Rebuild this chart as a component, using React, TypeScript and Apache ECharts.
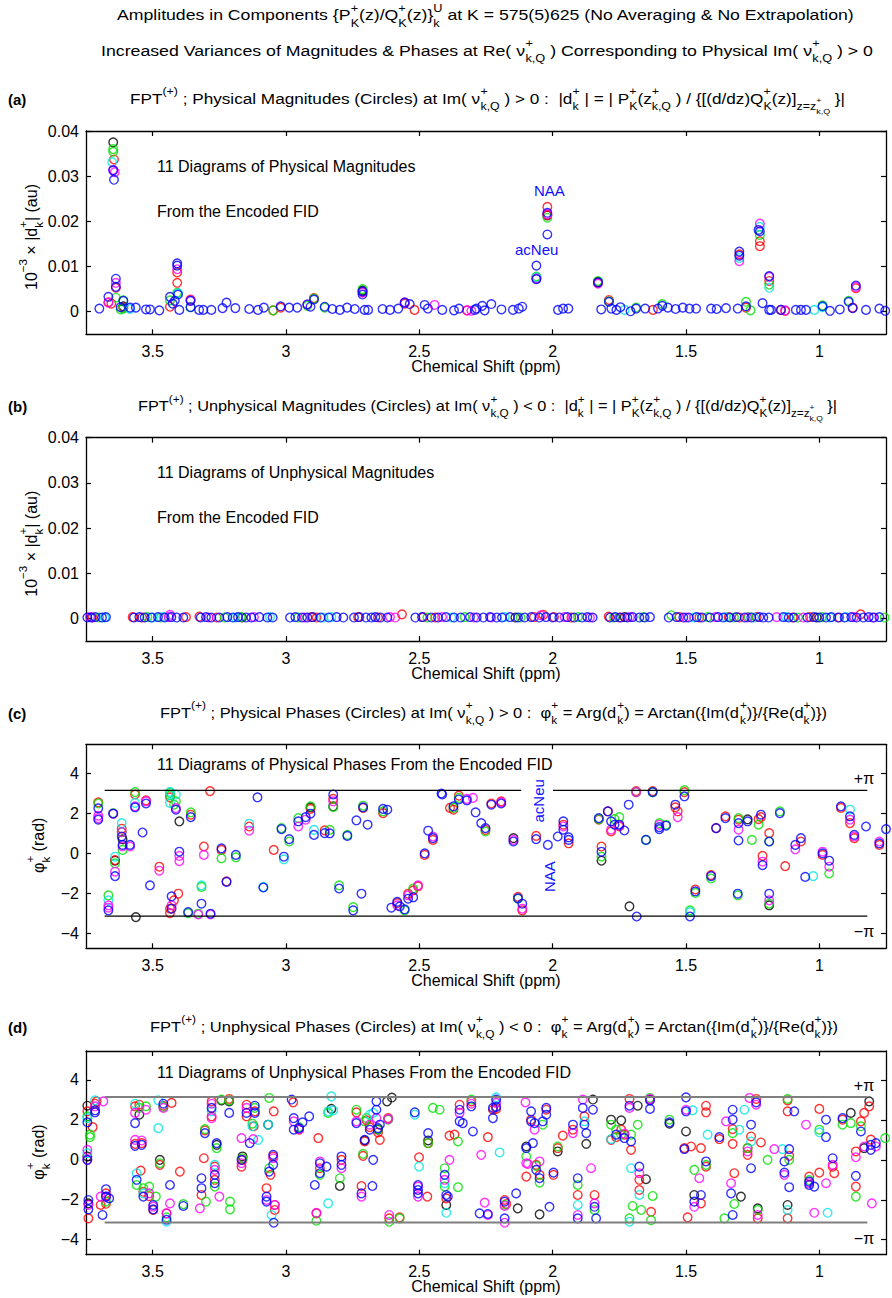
import React, { useEffect, useRef } from 'react';
import * as echarts from 'echarts';

// ---------------- data (ppm, value) ----------------
const X_TICKS = [1, 1.5, 2, 2.5, 3, 3.5];
const MAG_TICKS = [0, 0.01, 0.02, 0.03, 0.04];
const PHASE_TICKS = [-4, -2, 0, 2, 4];
const PI_LINE_X = [3.68, 0.82];
const C_TOP_GAP = [2.118, 1.999];

const A_BLACK = [[3.648,0.0375],[3.61,0.0012],[2.713,0.0047],[1.83,0.0066],[2.02,0.0213]];
const A_RED = [[3.645,0.0337],[3.638,0.0053],[3.666,0.0021],[3.61,0.0009],[3.408,0.0087],[3.408,0.0064],[3.435,0.0011],[3.358,0.0027],[3.048,0.0003],[3.02,0.0009],[2.895,0.003],[2.713,0.0044],[2.555,0.0018],[2.518,0.0004],[2.321,0.0003],[2.061,0.0075],[2.02,0.0232],[2.02,0.0214],[1.83,0.0064],[1.789,0.0026],[1.624,0.0004],[1.3,0.0127],[1.275,0.0009],[1.223,0.0156],[1.223,0.0145],[1.188,0.0068],[1.144,0.0004],[1.128,0.0002],[0.875,0.0009],[0.863,0.0052],[3.655,0.0018]];
const A_GREEN = [[3.648,0.036],[3.648,0.0354],[3.638,0.0031],[3.61,0.0025],[3.61,0.0007],[3.408,0.0042],[3.435,0.0025],[3.358,0.001],[3.048,0.0003],[2.92,0.0013],[2.895,0.0029],[2.855,0.0009],[2.713,0.005],[2.061,0.0078],[2.02,0.0208],[1.83,0.0068],[1.789,0.0023],[1.687,0.0009],[1.589,0.0017],[1.275,0.0022],[1.258,0.0003],[1.223,0.017],[1.188,0.006],[0.988,0.0014],[0.89,0.0024],[3.62,0.0005]];
const A_CYAN = [[3.652,0.0331],[3.585,0.0006],[3.405,0.0041],[1.73,0.0004],[1.3,0.0119],[1.223,0.0188],[1.188,0.0053],[1.019,0.0004],[2.061,0.0076],[0.988,0.001]];
const A_MAGENTA = [[3.648,0.0314],[3.642,0.0309],[3.638,0.0064],[3.666,0.002],[3.408,0.0094],[3.358,0.0025],[2.92,0.0016],[2.713,0.0042],[2.555,0.0021],[2.443,0.0015],[2.321,0.0003],[2.305,0.0002],[2.061,0.0073],[2.02,0.0216],[1.83,0.0062],[1.3,0.0112],[1.223,0.0195],[1.188,0.0077],[0.863,0.0055],[1.128,0.0003]];
const A_BLUE = [[3.648,0.0313],[3.645,0.0292],[3.638,0.0073],[3.638,0.0055],[3.666,0.0033],[3.7,0.0007],[3.61,0.0024],[3.62,0.001],[3.585,0.0009],[3.563,0.0009],[3.525,0.0005],[3.51,0.0005],[3.475,0.0003],[3.408,0.0107],[3.408,0.0102],[3.405,0.0038],[3.435,0.0033],[3.425,0.0018],[3.417,0.0024],[3.4,0.0004],[3.358,0.0024],[3.358,0.001],[3.326,0.0004],[3.31,0.0004],[3.28,0.0004],[3.238,0.0008],[3.223,0.002],[3.19,0.0008],[3.138,0.0006],[3.105,0.0004],[3.083,0.0009],[3.02,0.0012],[2.988,0.0009],[2.958,0.0009],[2.92,0.0016],[2.908,0.0011],[2.895,0.0027],[2.855,0.0011],[2.826,0.0006],[2.798,0.0004],[2.771,0.0009],[2.742,0.0006],[2.713,0.0045],[2.713,0.0038],[2.705,0.0004],[2.692,0.0004],[2.638,0.0006],[2.61,0.0004],[2.579,0.0007],[2.555,0.002],[2.536,0.0017],[2.48,0.0015],[2.468,0.0007],[2.414,0.0004],[2.37,0.0003],[2.351,0.0007],[2.292,0.0004],[2.286,0.0007],[2.264,0.0013],[2.255,0.0003],[2.23,0.0017],[2.192,0.0005],[2.149,0.0004],[2.127,0.0007],[2.114,0.0011],[2.061,0.0102],[2.061,0.0072],[2.02,0.0219],[2.02,0.0171],[1.98,0.0004],[1.961,0.0007],[1.941,0.0007],[1.83,0.0065],[1.818,0.0005],[1.789,0.0022],[1.78,0.0007],[1.761,0.0004],[1.746,0.001],[1.708,0.0001],[1.687,0.0007],[1.653,0.0007],[1.605,0.0007],[1.589,0.0013],[1.568,0.0009],[1.539,0.0006],[1.512,0.0009],[1.487,0.0007],[1.462,0.0007],[1.406,0.0007],[1.385,0.0006],[1.35,0.0008],[1.306,0.0007],[1.3,0.0133],[1.3,0.0124],[1.275,0.0012],[1.223,0.0178],[1.228,0.0181],[1.213,0.0019],[1.188,0.0079],[1.188,0.0004],[1.181,0.0004],[1.144,0.0004],[1.088,0.0004],[1.069,0.0004],[1.05,0.0004],[0.988,0.0012],[0.96,0.0002],[0.923,0.0005],[0.89,0.0022],[0.875,0.0008],[0.863,0.0058],[0.825,0.0004],[0.775,0.0007],[0.753,0.0002]];

const B_BLACK = [[2.14,0.0002],[1.73,0.0003],[1.01,0.0002],[3.165,0.0002]];
const B_RED = [[3.725,0.0002],[3.575,0.0003],[3.54,0.0002],[3.375,0.0003],[3.325,0.0004],[3.26,0.0002],[2.905,0.0003],[2.885,0.0002],[2.73,0.0003],[2.655,0.0002],[2.565,0.0009],[2.485,0.0003],[2.44,0.0002],[2.07,0.0003],[2.035,0.0008],[1.995,0.0003],[1.93,0.0002],[1.79,0.0004],[1.75,0.0002],[1.525,0.0003],[1.45,0.0002],[1.34,0.0003],[1.3,0.0002],[1.235,0.0003],[1.1,0.0002],[1.035,0.0003],[0.925,0.0002],[0.845,0.0009]];
const B_GREEN = [[3.7,0.0002],[3.52,0.0003],[3.47,0.0002],[3.23,0.0002],[3.17,0.0003],[2.955,0.0002],[2.47,0.0002],[2.33,0.0003],[2.12,0.0002],[1.905,0.0003],[1.77,0.0002],[1.66,0.0003],[1.555,0.0007],[1.42,0.0003],[1.32,0.0002],[1.265,0.0003],[1.08,0.0002],[0.99,0.0003],[0.755,0.0002]];
const B_CYAN = [[3.68,0.0002],[3.5,0.0002],[3.46,0.0003],[3.19,0.0002],[3.06,0.0003],[2.86,0.0002],[2.83,0.0003],[2.38,0.0002],[2.18,0.0003],[1.47,0.0002],[1.35,0.0003],[1.245,0.0002],[1.125,0.0003],[0.96,0.0002],[0.9,0.0003]];
const B_MAGENTA = [[3.735,0.0003],[3.44,0.0003],[3.435,0.0008],[3.29,0.0002],[3.12,0.0003],[2.93,0.0002],[2.61,0.0003],[2.59,0.0002],[2.415,0.0003],[2.295,0.0002],[2.23,0.0002],[2.045,0.0007],[1.955,0.0003],[1.86,0.0002],[1.71,0.0003],[1.5,0.0002],[1.39,0.0003],[1.27,0.0002],[1.16,0.0003],[1.06,0.0002],[0.87,0.0003],[0.8,0.0002]];
const B_BLUE = [[3.745,0.0002],[3.73,0.0002],[3.715,0.0003],[3.69,0.0002],[3.675,0.0003],[3.57,0.0002],[3.55,0.0003],[3.53,0.0002],[3.505,0.0002],[3.48,0.0003],[3.455,0.0002],[3.43,0.0003],[3.41,0.0002],[3.385,0.0002],[3.32,0.0002],[3.3,0.0003],[3.28,0.0002],[3.25,0.0002],[3.22,0.0003],[3.2,0.0002],[3.18,0.0003],[3.15,0.0002],[3.13,0.0002],[3.1,0.0003],[3.07,0.0002],[3.05,0.0002],[2.985,0.0002],[2.965,0.0003],[2.94,0.0002],[2.92,0.0002],[2.9,0.0003],[2.87,0.0002],[2.84,0.0002],[2.81,0.0003],[2.785,0.0002],[2.745,0.0002],[2.725,0.0003],[2.7,0.0002],[2.68,0.0002],[2.665,0.0003],[2.645,0.0002],[2.62,0.0002],[2.515,0.0002],[2.49,0.0003],[2.455,0.0002],[2.43,0.0002],[2.4,0.0003],[2.37,0.0002],[2.345,0.0002],[2.31,0.0003],[2.285,0.0002],[2.26,0.0002],[2.235,0.0003],[2.21,0.0002],[2.19,0.0002],[2.16,0.0003],[2.13,0.0002],[2.105,0.0002],[2.08,0.0003],[2.05,0.0002],[2.025,0.0003],[2.0,0.0002],[1.975,0.0002],[1.945,0.0003],[1.92,0.0002],[1.89,0.0002],[1.87,0.0003],[1.85,0.0002],[1.785,0.0002],[1.765,0.0003],[1.745,0.0002],[1.72,0.0002],[1.7,0.0003],[1.675,0.0002],[1.655,0.0002],[1.635,0.0003],[1.565,0.0002],[1.535,0.0003],[1.51,0.0002],[1.49,0.0002],[1.46,0.0003],[1.44,0.0002],[1.41,0.0002],[1.38,0.0003],[1.36,0.0002],[1.335,0.0002],[1.31,0.0003],[1.28,0.0002],[1.255,0.0002],[1.225,0.0003],[1.21,0.0002],[1.19,0.0002],[1.135,0.0003],[1.115,0.0002],[1.095,0.0002],[1.045,0.0002],[1.02,0.0003],[1.0,0.0002],[0.975,0.0002],[0.955,0.0003],[0.93,0.0002],[0.905,0.0002],[0.88,0.0003],[0.86,0.0002],[0.835,0.0002],[0.815,0.0003],[0.795,0.0002],[0.775,0.0003]];

const C_BLACK = [[3.641,-0.37],[3.613,0.7],[3.563,-3.19],[3.4,1.6],[2.908,2.3],[2.147,0.76],[1.817,-0.37],[1.712,-2.65],[1.269,1.7],[1.188,-2.6],[2.823,2.35]];
const C_RED = [[3.704,2.55],[3.641,-0.34],[3.616,1.23],[3.566,2.94],[3.525,2.65],[3.475,-0.67],[3.435,-2.77],[3.435,-2.99],[3.435,2.8],[3.42,-2.35],[3.404,-2.02],[3.357,1.93],[3.285,3.11],[3.308,0.34],[3.242,0.17],[3.223,-1.4],[3.138,1.34],[3.046,0.17],[2.908,2.22],[2.855,1.15],[2.823,2.72],[2.711,2.27],[2.636,2.01],[2.583,-2.49],[2.542,-2.02],[2.523,-1.85],[2.505,-1.65],[2.48,-0.08],[2.449,0.67],[2.385,2.27],[2.372,2.18],[2.352,2.88],[2.252,1.17],[2.23,2.49],[2.193,2.6],[2.13,-2.18],[2.114,-2.85],[2.062,0.87],[1.96,1.43],[1.94,0.5],[1.827,1.68],[1.817,0.34],[1.793,2.1],[1.781,1.09],[1.75,1.34],[1.687,3.11],[1.625,3.11],[1.54,2.3],[1.531,2.1],[1.506,3.06],[1.465,-1.81],[1.406,-1.09],[1.387,1.26],[1.352,1.85],[1.303,1.68],[1.228,1.71],[1.219,1.81],[1.213,-0.13],[1.188,1.01],[1.128,-0.64],[1.069,0.59],[0.988,-0.08],[0.919,2.27],[0.885,1.51],[0.869,0.76],[0.775,0.42]];
const C_GREEN = [[3.704,2.49],[3.666,-2.1],[3.648,2.01],[3.641,-0.5],[3.616,1.06],[3.613,0.17],[3.566,3.06],[3.435,3.02],[3.435,2.89],[3.42,2.43],[3.413,2.6],[3.357,2.05],[3.367,-2.99],[3.329,-3.02],[3.317,-1.68],[3.242,-0.25],[3.188,-0.2],[3.017,1.26],[2.988,0.59],[2.954,1.76],[2.908,2.35],[2.836,1.17],[2.823,2.32],[2.801,-1.6],[2.77,0.92],[2.748,-2.69],[2.711,2.38],[2.636,2.1],[2.555,-2.85],[2.523,-1.76],[2.372,2.27],[2.352,2.77],[2.252,1.09],[2.13,-2.27],[1.827,1.71],[1.817,-0.17],[1.768,1.71],[1.75,1.81],[1.687,3.06],[1.65,0.67],[1.625,3.06],[1.6,1.51],[1.575,1.43],[1.506,3.16],[1.485,-2.85],[1.465,-1.98],[1.406,-1.26],[1.306,-2.1],[1.303,1.76],[1.253,0.67],[1.228,1.43],[1.188,0.59],[1.188,-2.52],[1.148,2.1],[0.963,-1.01]];
const C_CYAN = [[3.666,-2.35],[3.641,-0.17],[3.616,1.51],[3.566,2.52],[3.435,3.07],[3.435,2.52],[3.413,2.94],[3.317,-1.6],[3.138,1.48],[3.085,-1.68],[3.008,-0.3],[2.895,1.17],[1.485,-2.94],[1.023,-1.14],[0.885,2.18]];
const C_MAGENTA = [[3.704,1.88],[3.704,1.76],[3.666,-2.6],[3.666,-2.72],[3.648,1.98],[3.641,-0.92],[3.616,1.06],[3.613,0.34],[3.585,0.34],[3.566,2.35],[3.525,2.6],[3.475,-0.87],[3.429,-2.6],[3.413,2.26],[3.4,-0.13],[3.4,-0.39],[3.329,-3.06],[3.308,-0.08],[3.283,-3.06],[3.138,1.13],[2.954,1.34],[2.926,1.68],[2.823,2.6],[2.583,-2.6],[2.542,-2.1],[2.505,-1.6],[2.449,0.84],[2.322,2.72],[2.299,2.77],[2.193,2.55],[2.147,0.67],[2.114,-2.77],[1.96,1.34],[1.781,1.18],[1.75,1.38],[1.687,3.06],[1.6,1.43],[1.531,1.81],[1.303,1.18],[1.213,-0.42],[1.188,-2.35],[1.09,0.2],[0.988,0.08],[0.963,-0.67],[0.885,1.68],[0.869,0.84],[0.775,0.59]];
const C_BLUE = [[3.704,2.25],[3.704,1.68],[3.666,-2.85],[3.648,1.98],[3.641,-1.14],[3.616,0.84],[3.613,0.42],[3.585,0.42],[3.566,2.3],[3.538,1.04],[3.525,2.49],[3.51,-1.6],[3.429,-2.15],[3.429,-2.77],[3.413,2.18],[3.4,0.08],[3.357,1.81],[3.367,-2.94],[3.317,-2.52],[3.242,0.25],[3.283,-3.02],[3.223,-1.43],[3.188,-0.08],[3.107,2.8],[3.085,-1.71],[3.017,1.21],[3.008,-0.17],[2.988,0.71],[2.954,1.6],[2.926,1.81],[2.908,1.98],[2.895,0.92],[2.855,1.01],[2.836,1.0],[2.823,2.94],[2.801,-1.76],[2.77,0.87],[2.748,-2.85],[2.736,1.65],[2.717,-2.02],[2.711,2.3],[2.694,1.43],[2.636,2.22],[2.62,2.18],[2.605,-2.72],[2.583,-2.43],[2.573,-2.65],[2.555,-2.8],[2.542,-2.27],[2.523,-2.2],[2.48,0.0],[2.467,1.13],[2.449,0.76],[2.417,2.99],[2.414,2.94],[2.372,2.35],[2.352,2.69],[2.322,2.65],[2.289,2.05],[2.268,1.51],[2.252,1.26],[2.23,2.43],[2.193,2.49],[2.147,0.59],[2.13,-2.25],[2.114,-2.52],[2.062,0.71],[2.018,0.42],[1.981,0.84],[1.96,1.6],[1.96,1.18],[1.94,0.67],[1.94,0.8],[1.827,1.76],[1.817,0.08],[1.793,2.1],[1.781,1.6],[1.768,1.43],[1.75,1.43],[1.731,1.14],[1.715,2.43],[1.685,-3.16],[1.65,0.67],[1.625,3.06],[1.6,1.31],[1.6,1.21],[1.575,1.38],[1.54,2.43],[1.506,2.85],[1.485,-3.16],[1.465,-1.9],[1.406,-1.14],[1.387,1.26],[1.352,1.76],[1.306,-2.02],[1.303,1.51],[1.303,0.64],[1.269,1.6],[1.219,1.93],[1.213,-0.59],[1.188,0.59],[1.188,-2.02],[1.148,2.01],[1.09,0.42],[1.069,0.76],[1.053,-1.18],[0.988,0.0],[0.963,-0.37],[0.919,2.35],[0.885,1.85],[0.869,0.92],[0.825,1.34],[0.775,0.5],[0.75,1.21]];

const D_BLACK = [[3.745,2.71],[3.745,0.17],[3.741,-2.18],[3.55,2.26],[3.473,0.0],[3.26,0.75],[3.242,2.98],[3.213,2.93],[3.163,0.17],[3.067,1.76],[2.83,2.55],[2.798,-1.31],[2.705,0.97],[2.655,1.51],[2.621,2.93],[2.603,3.12],[2.467,0.97],[2.399,-2.26],[2.131,-2.43],[2.099,0.67],[2.049,-2.73],[1.981,0.42],[1.874,0.8],[1.849,3.02],[1.781,2.01],[1.743,1.98],[1.681,2.71],[1.65,-0.97],[1.562,1.81],[1.5,1.42],[1.469,-1.76],[1.294,-1.84],[1.231,-2.43],[1.119,-2.26],[0.882,2.35],[0.832,0.59],[0.813,2.93]];
const D_RED = [[3.745,2.43],[3.741,-2.93],[3.725,1.64],[3.716,2.81],[3.71,2.93],[3.695,-2.26],[3.675,-1.68],[3.675,-2.2],[3.566,2.68],[3.566,0.8],[3.55,2.76],[3.545,-0.54],[3.541,0.84],[3.535,-1.6],[3.513,-1.82],[3.498,-2.51],[3.473,-0.25],[3.46,2.71],[3.448,-2.68],[3.429,2.85],[3.398,-0.59],[3.317,-1.76],[3.308,0.08],[3.304,1.47],[3.279,2.93],[3.279,2.18],[3.267,-0.34],[3.267,-1.0],[3.213,3.05],[3.167,-0.34],[3.163,0.0],[3.148,2.76],[3.148,2.18],[3.121,1.68],[3.117,2.43],[3.073,-1.42],[3.058,-0.75],[3.048,0.17],[3.046,2.43],[3.042,-2.51],[3.042,-2.26],[2.973,2.88],[2.951,1.51],[2.879,1.09],[2.873,-0.42],[2.886,-2.68],[2.792,0.0],[2.736,2.38],[2.717,-1.31],[2.711,0.2],[2.705,0.92],[2.698,1.98],[2.686,1.64],[2.655,1.37],[2.648,1.0],[2.617,2.09],[2.613,-2.93],[2.574,-2.88],[2.501,0.13],[2.467,0.84],[2.47,-1.84],[2.399,-1.93],[2.387,1.21],[2.368,1.26],[2.349,2.76],[2.305,2.93],[2.243,1.14],[2.224,2.51],[2.212,2.55],[2.18,-2.01],[2.174,-2.21],[2.099,-0.84],[2.081,2.01],[2.062,-0.25],[2.049,-0.75],[2.024,2.51],[1.997,-0.75],[1.981,0.59],[1.962,1.21],[1.924,1.51],[1.906,-1.76],[1.881,2.18],[1.843,-1.76],[1.781,1.0],[1.762,1.14],[1.743,1.51],[1.731,1.26],[1.712,3.05],[1.706,0.5],[1.675,-1.0],[1.675,-1.51],[1.635,3.02],[1.631,-2.6],[1.506,0.59],[1.494,-2.88],[1.481,0.67],[1.444,0.59],[1.444,-2.18],[1.425,2.71],[1.425,2.38],[1.425,-0.34],[1.375,1.04],[1.325,1.54],[1.325,0.8],[1.319,-0.67],[1.269,0.59],[1.269,0.25],[1.256,1.17],[1.237,3.05],[1.231,-2.93],[1.219,0.87],[1.119,2.43],[1.119,2.98],[1.119,-2.93],[1.113,0.2],[1.038,-0.84],[1.0,2.55],[1.0,-0.64],[0.95,-0.34],[0.944,-0.67],[0.913,2.01],[0.863,-1.34],[0.863,0.42],[0.844,1.93],[0.832,2.35],[0.813,2.68],[0.807,1.01]];
const D_GREEN = [[3.745,2.18],[3.735,1.14],[3.735,1.26],[3.675,-2.09],[3.56,-1.26],[3.55,2.6],[3.535,-1.42],[3.525,2.68],[3.513,-1.34],[3.488,-1.84],[3.473,-0.17],[3.46,2.65],[3.448,-2.88],[3.385,-2.22],[3.304,1.54],[3.3,-2.09],[3.267,-1.34],[3.26,0.59],[3.242,3.02],[3.213,2.98],[3.21,-2.09],[3.21,-2.48],[3.163,0.08],[3.126,1.81],[3.117,2.6],[3.063,-0.42],[3.063,3.1],[2.951,1.64],[2.873,-0.75],[2.886,-3.05],[2.842,2.35],[2.798,-0.92],[2.736,2.51],[2.711,0.3],[2.705,1.93],[2.698,2.09],[2.655,1.54],[2.617,2.01],[2.613,-3.1],[2.574,-2.93],[2.467,0.84],[2.449,2.6],[2.424,2.51],[2.405,-0.42],[2.405,-1.34],[2.355,0.92],[2.355,-1.37],[2.305,3.02],[2.18,-2.26],[2.099,0.17],[2.062,-0.3],[2.049,-1.14],[2.037,1.76],[1.981,0.67],[1.906,-1.26],[1.843,-2.51],[1.781,1.76],[1.762,1.51],[1.743,1.26],[1.712,-2.93],[1.706,1.26],[1.7,-2.31],[1.681,1.76],[1.668,-2.51],[1.635,3.1],[1.631,-3.02],[1.625,-1.81],[1.562,2.01],[1.469,-0.5],[1.425,-0.25],[1.356,-2.93],[1.325,1.34],[1.319,-2.21],[1.269,0.59],[1.231,-2.51],[1.194,0.0],[1.119,3.05],[1.113,0.0],[1.038,-1.01],[1.0,1.51],[0.913,1.76],[0.882,1.84],[0.863,-1.84],[0.844,1.68],[0.753,1.09]];
const D_CYAN = [[3.745,2.09],[3.745,0.34],[3.716,2.98],[3.566,2.81],[3.56,-0.67],[3.535,-1.68],[3.479,1.59],[3.479,2.98],[3.448,-3.1],[3.279,2.43],[3.267,-0.25],[3.126,1.68],[3.104,1.0],[3.067,1.76],[3.054,-2.76],[2.842,2.43],[2.83,3.18],[2.823,2.48],[2.842,-2.18],[2.686,2.26],[2.673,2.35],[2.517,2.26],[2.501,-0.34],[2.405,-1.17],[2.399,-2.65],[2.212,3.13],[2.199,0.37],[1.906,-2.26],[1.881,1.93],[1.781,1.04],[1.712,-3.1],[1.706,-0.42],[1.675,-1.76],[1.475,2.48],[1.419,1.26],[1.3,1.51],[1.281,2.51],[1.256,0.92],[1.138,0.54],[1.119,-2.51],[1.0,1.38],[0.969,-2.65]];
const D_MAGENTA = [[3.745,0.5],[3.745,0.0],[3.741,-2.26],[3.716,2.68],[3.695,-1.84],[3.685,2.93],[3.675,-1.84],[3.566,2.35],[3.566,1.0],[3.541,0.97],[3.525,2.51],[3.513,-1.68],[3.498,-2.34],[3.46,2.6],[3.448,-2.68],[3.435,-2.18],[3.323,-2.43],[3.279,2.81],[3.279,2.09],[3.267,-0.5],[3.25,-1.84],[3.167,1.09],[3.167,-0.17],[3.148,2.6],[3.123,1.04],[3.073,-2.01],[3.048,0.08],[3.042,-2.26],[2.971,1.93],[2.951,1.54],[2.873,-0.08],[2.886,-2.65],[2.792,-0.42],[2.736,1.93],[2.717,-1.84],[2.686,1.76],[2.661,2.09],[2.617,2.04],[2.613,-2.76],[2.505,-1.34],[2.505,-1.84],[2.405,-1.0],[2.387,0.0],[2.349,2.35],[2.305,2.81],[2.268,0.25],[2.243,-2.76],[2.255,-2.14],[2.212,2.85],[2.18,-2.31],[2.18,-3.15],[2.102,2.88],[2.099,-0.17],[2.093,-0.2],[2.068,1.51],[2.049,-0.08],[1.924,1.34],[1.906,-2.76],[1.887,3.02],[1.856,-0.42],[1.843,-2.18],[1.731,1.31],[1.712,2.6],[1.675,-0.67],[1.635,3.05],[1.5,2.51],[1.469,-2.35],[1.45,-0.92],[1.35,1.93],[1.331,-1.17],[1.269,0.42],[1.262,3.1],[1.237,2.76],[1.231,-2.76],[1.169,0.54],[1.131,-0.75],[1.05,1.76],[1.038,-1.17],[1.019,-2.65],[0.975,-1.17],[0.95,-0.25],[0.863,0.13],[0.832,0.67],[0.803,-2.18],[0.788,0.67]];
const D_BLUE = [[3.745,1.88],[3.745,0.0],[3.741,-2.01],[3.741,-2.48],[3.716,2.48],[3.716,2.38],[3.688,-2.76],[3.675,-1.47],[3.675,-1.84],[3.663,-1.93],[3.566,1.84],[3.566,0.7],[3.56,-1.0],[3.541,0.75],[3.535,-1.84],[3.498,-2.26],[3.498,-2.48],[3.46,2.81],[3.448,-3.0],[3.435,-1.26],[3.385,-2.31],[3.317,-0.92],[3.317,-1.42],[3.304,1.34],[3.279,2.6],[3.267,-0.75],[3.267,-1.17],[3.26,0.84],[3.213,2.35],[3.167,0.0],[3.148,2.35],[3.136,0.84],[3.117,2.71],[3.117,2.35],[3.073,-1.84],[3.073,-2.09],[3.063,-0.59],[3.048,0.25],[3.048,-0.25],[3.046,-3.15],[2.979,3.02],[2.971,2.09],[2.971,1.51],[2.951,1.59],[2.938,1.88],[2.913,2.18],[2.892,-1.26],[2.873,-0.17],[2.873,-0.67],[2.848,-0.34],[2.792,0.17],[2.792,-0.25],[2.736,1.84],[2.717,-1.68],[2.705,1.0],[2.686,1.51],[2.673,0.0],[2.676,-1.31],[2.661,2.93],[2.661,2.51],[2.655,1.59],[2.648,1.76],[2.517,2.38],[2.505,-1.26],[2.505,-1.51],[2.505,-1.68],[2.467,1.34],[2.405,-0.75],[2.399,-1.76],[2.393,-1.84],[2.349,2.51],[2.349,1.93],[2.337,1.84],[2.305,2.68],[2.299,1.42],[2.274,-2.68],[2.243,-2.71],[2.224,2.6],[2.224,2.09],[2.212,3.02],[2.212,2.65],[2.18,-2.09],[2.18,-2.93],[2.137,-1.68],[2.099,0.59],[2.081,2.43],[2.081,1.93],[2.074,0.84],[2.068,1.84],[2.062,-0.5],[2.049,-0.92],[2.037,1.93],[2.024,2.6],[2.024,2.26],[2.012,-2.35],[1.997,-0.64],[1.924,1.76],[1.906,-0.92],[1.906,-2.93],[1.887,2.6],[1.881,1.76],[1.874,1.34],[1.849,2.51],[1.843,-2.35],[1.837,-2.93],[1.762,1.26],[1.731,1.09],[1.712,2.71],[1.706,0.92],[1.675,-0.34],[1.635,2.55],[1.635,2.98],[1.562,1.88],[1.5,3.13],[1.5,2.43],[1.506,0.54],[1.469,-2.09],[1.444,-1.76],[1.425,-0.08],[1.375,1.14],[1.331,-1.68],[1.325,2.51],[1.325,2.01],[1.325,-2.76],[1.256,1.76],[1.256,-0.42],[1.237,2.88],[1.131,-0.08],[1.131,-0.64],[1.113,-1.37],[1.113,0.54],[1.094,2.43],[1.038,-1.09],[1.038,-1.26],[1.019,-1.34],[0.975,2.01],[0.975,1.14],[0.95,0.08],[0.913,2.09],[0.863,-0.8],[0.844,1.42],[0.807,0.75],[0.807,0.5],[0.788,0.84]];

// ---------------- texts ----------------
const TITLE_1 = 'Amplitudes in Components {P^{+}_{K}(z)/Q^{+}_{K}(z)}^{U}_{k} at K = 575(5)625 (No Averaging & No Extrapolation)';
const TITLE_2 = 'Increased Variances of Magnitudes & Phases at Re( \u03bd^{+}_{k,Q} ) Corresponding to Physical Im( \u03bd^{+}_{k,Q} ) > 0';
const TITLE_A = 'FPT^{(+)} ; Physical Magnitudes (Circles) at Im( \u03bd^{+}_{k,Q} ) > 0 :  |d^{+}_{k} | = | P^{+}_{K}(z^{+}_{k,Q} ) / {[(d/dz)Q^{+}_{K}(z)]_{z=z^{+}_{k,Q}} }|';
const TITLE_B = 'FPT^{(+)} ; Unphysical Magnitudes (Circles) at Im( \u03bd^{+}_{k,Q} ) < 0 :  |d^{+}_{k} | = | P^{+}_{K}(z^{+}_{k,Q} ) / {[(d/dz)Q^{+}_{K}(z)]_{z=z^{+}_{k,Q}} }|';
const TITLE_C = 'FPT^{(+)} ; Physical Phases (Circles) at Im( \u03bd^{+}_{k,Q} ) > 0 :  \u03c6^{+}_{k} = Arg(d^{+}_{k}) = Arctan({Im(d^{+}_{k})}/{Re(d^{+}_{k})})';
const TITLE_D = 'FPT^{(+)} ; Unphysical Phases (Circles) at Im( \u03bd^{+}_{k,Q} ) < 0 :  \u03c6^{+}_{k} = Arg(d^{+}_{k}) = Arctan({Im(d^{+}_{k})}/{Re(d^{+}_{k})})';
const YLABEL_MAG = '10^{\u22123} \u00d7 |d^{+}_{k}| (au)';
const YLABEL_PHASE = '\u03c6^{+}_{k} (rad)';
const XLABEL = 'Chemical Shift (ppm)';

// ---------------- helpers ----------------
const FONT = '"Liberation Sans", Arial, Helvetica, sans-serif';
const COLORS: Record<string, string> = {
  black: '#000000', red: '#ff0000', green: '#00e000', cyan: '#00e5e5', magenta: '#ff00ff', blue: '#0000ff',
};
const ORDER = ['black', 'red', 'green', 'cyan', 'magenta', 'blue'];

let measureCtx: any = null;
function measure(t: string, size: number, bold: boolean): number {
  if (!measureCtx) measureCtx = document.createElement('canvas').getContext('2d');
  if (!measureCtx) return t.length * size * 0.55;
  measureCtx.font = `${bold ? 'bold ' : ''}${size}px ${FONT}`;
  return measureCtx.measureText(t).width;
}

type Run = { text: string; x: number; dy: number; size: number };
function layoutMath(src: string, size: number, bold: boolean) {
  const runs: Run[] = [];
  const parse = (s: string, sz: number, dy: number, x0: number): number => {
    let x = x0;
    let buf = '';
    let i = 0;
    const flush = () => {
      if (buf) {
        runs.push({ text: buf, x, dy, size: sz });
        x += measure(buf, sz, bold);
        buf = '';
      }
    };
    while (i < s.length) {
      const c = s[i];
      if ((c === '^' || c === '_') && s[i + 1] === '{') {
        flush();
        let maxW = 0;
        while (i < s.length && (s[i] === '^' || s[i] === '_') && s[i + 1] === '{') {
          const kind = s[i];
          let depth = 0;
          let j = i + 1;
          for (; j < s.length; j++) {
            if (s[j] === '{') depth++;
            else if (s[j] === '}') { depth--; if (depth === 0) break; }
          }
          const inner = s.slice(i + 2, j);
          const w = parse(inner, sz * 0.72, dy + (kind === '^' ? -0.5 : 0.5) * sz, x);
          if (w > maxW) maxW = w;
          i = j + 1;
        }
        x += maxW;
      } else {
        buf += c;
        i++;
      }
    }
    flush();
    return x - x0;
  };
  const width = parse(src, size, 0, 0);
  return { runs, width };
}

function runEls(runs: Run[], fill: string, bold: boolean) {
  return runs.map((r) => ({
    type: 'text', x: r.x, y: r.dy, silent: true,
    style: {
      text: r.text, fontSize: r.size, fontFamily: FONT, fontWeight: bold ? 'bold' : 'normal', fill,
      textAlign: 'left', textVerticalAlign: 'middle', align: 'left', verticalAlign: 'middle',
    },
  }));
}

function mathText(src: string, o: any) {
  const bold = !!o.bold;
  const { runs, width } = layoutMath(src, o.size, bold);
  let sx = 1;
  let left = o.x;
  if (o.x1 != null) sx = (o.x1 - o.x) / width;
  else if (o.align === 'center') left = o.x - width / 2;
  return { type: 'group', x: left, y: o.y, scaleX: sx, scaleY: 1, silent: true, children: runEls(runs, o.fill || '#000', bold) };
}

function mathTextV(src: string, o: any) {
  const { runs, width } = layoutMath(src, o.size, false);
  const sx = o.len ? o.len / width : 1;
  return {
    type: 'group', x: o.cx, y: o.cy, rotation: Math.PI / 2, silent: true,
    children: [{ type: 'group', x: (-width * sx) / 2, scaleX: sx, children: runEls(runs, o.fill || '#000', false) }],
  };
}

// ---------------- layout ----------------
const GRIDS = [
  { top: 131, height: 203.3 },
  { top: 437.7, height: 203.3 },
  { top: 744.3, height: 204 },
  { top: 1051, height: 203.7 },
];
const GRID_LEFT = 86;
const GRID_WIDTH = 800;

function buildOption() {
  const panels = [
    { mag: true, sets: { black: A_BLACK, red: A_RED, green: A_GREEN, cyan: A_CYAN, magenta: A_MAGENTA, blue: A_BLUE } },
    { mag: true, sets: { black: B_BLACK, red: B_RED, green: B_GREEN, cyan: B_CYAN, magenta: B_MAGENTA, blue: B_BLUE } },
    { mag: false, sets: { black: C_BLACK, red: C_RED, green: C_GREEN, cyan: C_CYAN, magenta: C_MAGENTA, blue: C_BLUE } },
    { mag: false, sets: { black: D_BLACK, red: D_RED, green: D_GREEN, cyan: D_CYAN, magenta: D_MAGENTA, blue: D_BLUE } },
  ];
  const grid = GRIDS.map((g) => ({ left: GRID_LEFT, top: g.top, width: GRID_WIDTH, height: g.height, containLabel: false }));
  const xAxis: any[] = [];
  const yAxis: any[] = [];
  const series: any[] = [];
  const axisLine = { show: true, onZero: false, lineStyle: { color: '#000', width: 1.3 } };
  const labelStyle = { fontSize: 16, fontFamily: FONT, color: '#000' };

  panels.forEach((p, g) => {
    const xBase = {
      type: 'value', gridIndex: g, min: 0.75, max: 3.75, inverse: true, splitLine: { show: false },
      axisLine, axisTick: { show: true, inside: true, length: 5, customValues: X_TICKS, lineStyle: { color: '#000', width: 1.2 } },
    };
    xAxis.push({ ...xBase, position: 'bottom', axisLabel: { ...labelStyle, show: true, customValues: X_TICKS, margin: 9 } });
    xAxis.push({ ...xBase, position: 'top', axisLabel: { show: false } });
    const ticks = p.mag ? MAG_TICKS : PHASE_TICKS;
    const yBase = {
      type: 'value', gridIndex: g, min: p.mag ? -0.005 : -4.75, max: p.mag ? 0.04 : 5.45, splitLine: { show: false },
      axisLine, axisTick: { show: true, inside: true, length: 5, customValues: ticks, lineStyle: { color: '#000', width: 1.2 } },
    };
    yAxis.push({
      ...yBase, position: 'left',
      axisLabel: { ...labelStyle, show: true, customValues: ticks, margin: 7, formatter: (v: number) => String(v).replace('-', '\u2212') },
    });
    yAxis.push({ ...yBase, position: 'right', axisLabel: { show: false } });

    ORDER.forEach((c) => {
      series.push({
        type: 'scatter', name: `${c}-${g}`, xAxisIndex: 2 * g, yAxisIndex: 2 * g, data: (p.sets as any)[c],
        symbol: 'circle', symbolSize: 8.6, silent: true, emphasis: { disabled: true },
        itemStyle: { color: 'rgba(0,0,0,0)', borderColor: COLORS[c], borderWidth: 1.4 },
      });
    });
  });

  const PI = Math.PI;
  const lineSeries = (g: number, x0: number, x1: number, y: number, color: string, width: number) => ({
    type: 'line', xAxisIndex: 2 * g, yAxisIndex: 2 * g, data: [[x0, y], [x1, y]], symbol: 'none', silent: true,
    lineStyle: { color, width }, z: 3,
  });
  series.push(lineSeries(2, PI_LINE_X[0], C_TOP_GAP[0], PI, '#000', 1.2));
  series.push(lineSeries(2, C_TOP_GAP[1], PI_LINE_X[1], PI, '#000', 1.2));
  series.push(lineSeries(2, PI_LINE_X[0], PI_LINE_X[1], -PI, '#000', 1.2));
  series.push(lineSeries(3, PI_LINE_X[0], PI_LINE_X[1], PI, '#7f7f7f', 2));
  series.push(lineSeries(3, PI_LINE_X[0], PI_LINE_X[1], -PI, '#7f7f7f', 2));

  const els: any[] = [];
  els.push(mathText(TITLE_1, { x: 117, x1: 855, y: 15, size: 15 }));
  els.push(mathText(TITLE_2, { x: 101, x1: 873, y: 51, size: 15 }));
  const panelTitles = [
    { t: TITLE_A, x: 130, x1: 845, y: 99 },
    { t: TITLE_B, x: 138, x1: 837, y: 406 },
    { t: TITLE_C, x: 160, x1: 827, y: 713 },
    { t: TITLE_D, x: 150, x1: 838, y: 1027 },
  ];
  const tags = ['(a)', '(b)', '(c)', '(d)'];
  panelTitles.forEach((pt, i) => {
    els.push(mathText(pt.t, { x: pt.x, x1: pt.x1, y: pt.y, size: 14.5 }));
    els.push(mathText(tags[i], { x: 8, y: pt.y, size: 15, bold: true }));
  });
  GRIDS.forEach((g, i) => {
    const bottom = g.top + g.height;
    els.push(mathText(XLABEL, { x: GRID_LEFT + GRID_WIDTH / 2, y: bottom + 32, size: 16, align: 'center' }));
    if (i < 2) els.push(mathTextV(YLABEL_MAG, { cx: 31, cy: g.top + 106, size: 16 }));
    else els.push(mathTextV(YLABEL_PHASE, { cx: 38, cy: g.top + 101, size: 16 }));
  });
  els.push(mathText('11 Diagrams of Physical Magnitudes', { x: 157, y: 166, size: 16 }));
  els.push(mathText('From the Encoded FID', { x: 157, y: 211, size: 16 }));
  els.push(mathText('11 Diagrams of Unphysical Magnitudes', { x: 157, y: 472.5, size: 16 }));
  els.push(mathText('From the Encoded FID', { x: 157, y: 517.5, size: 16 }));
  els.push(mathText('11 Diagrams of Physical Phases From the Encoded FID', { x: 157, y: 764.5, size: 16 }));
  els.push(mathText('11 Diagrams of Unphysical Phases From the Encoded FID', { x: 157, y: 1072, size: 16 }));
  els.push(mathText('NAA', { x: 549.3, y: 190, size: 15, align: 'center', fill: '#1010ff' }));
  els.push(mathText('acNeu', { x: 536.7, y: 249.3, size: 15, align: 'center', fill: '#1010ff' }));
  els.push(mathTextV('acNeu', { cx: 538.3, cy: 800.8, size: 15, fill: '#1010ff' }));
  els.push(mathTextV('NAA', { cx: 549, cy: 876.7, size: 15, fill: '#1010ff' }));
  els.push(mathText('+\u03c0', { x: 864, y: 778, size: 16, align: 'center' }));
  els.push(mathText('\u2212\u03c0', { x: 864, y: 931, size: 16, align: 'center' }));
  els.push(mathText('+\u03c0', { x: 864, y: 1085, size: 16, align: 'center' }));
  els.push(mathText('\u2212\u03c0', { x: 864, y: 1238, size: 16, align: 'center' }));

  return {
    animation: false,
    backgroundColor: '#ffffff',
    grid, xAxis, yAxis, series,
    graphic: { elements: els },
  };
}

export default function App() {
  const ref = useRef<HTMLDivElement>(null);
  useEffect(() => {
    if (!ref.current) return;
    const chart = echarts.init(ref.current, null, { renderer: 'svg' });
    chart.setOption(buildOption() as any);
    return () => chart.dispose();
  }, []);
  return (
    <div
      ref={ref}
      style={{ position: 'absolute', left: 0, top: 0, width: 892, height: 1298, background: '#fff' }}
    />
  );
}
